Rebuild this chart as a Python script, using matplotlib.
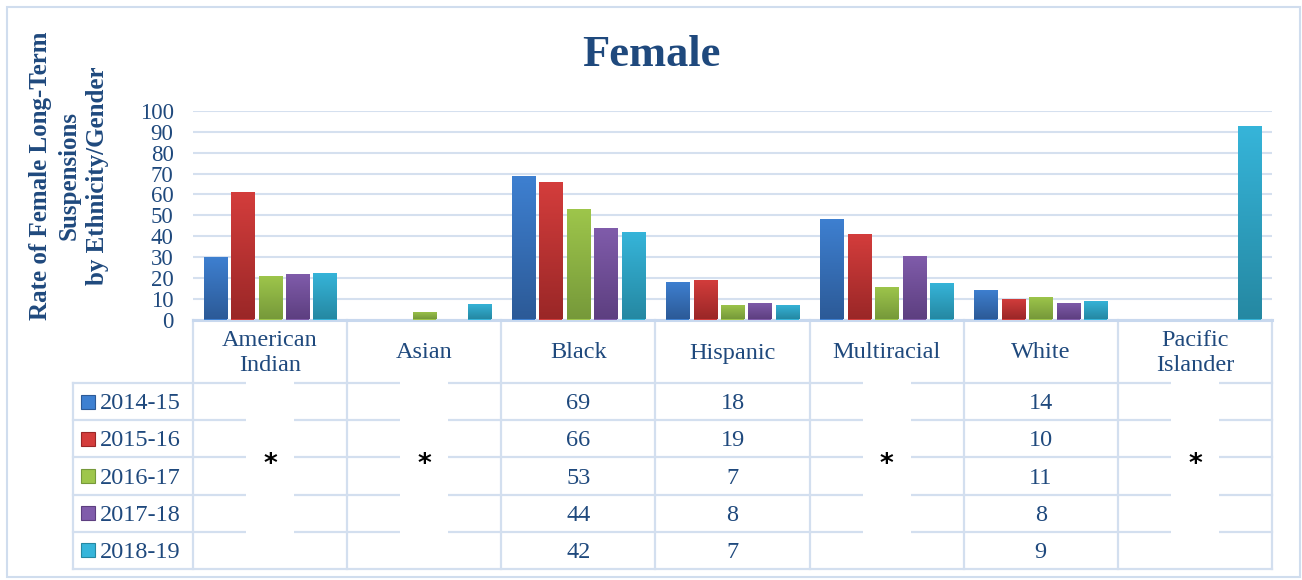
import numpy as np
import matplotlib
matplotlib.use("Agg")
import matplotlib.pyplot as plt
from matplotlib.colors import LinearSegmentedColormap
from matplotlib.patches import Rectangle
from matplotlib.transforms import blended_transform_factory

# ---------------- data ----------------
categories = ["American\nIndian", "Asian", "Black", "Hispanic",
              "Multiracial", "White", "Pacific\nIslander"]
years = ["2014-15", "2015-16", "2016-17", "2017-18", "2018-19"]
v_2014_15 = [30, 0, 69, 18, 48, 14, 0]
v_2015_16 = [61, 0, 66, 19, 41, 10, 0]
v_2016_17 = [21, 3.4, 53, 7, 15.5, 11, 0]
v_2017_18 = [22, 0, 44, 8, 30.5, 8, 0]
v_2018_19 = [22.3, 7.2, 42, 7, 17.5, 9, 92.7]
suppressed = [True, True, False, False, True, False, True]
y_ticks = [0, 10, 20, 30, 40, 50, 60, 70, 80, 90, 100]
title = "Female"
y_label = "Rate of Female Long-Term\nSuspensions\nby Ethnicity/Gender"

series = [v_2014_15, v_2015_16, v_2016_17, v_2017_18, v_2018_19]

# ---------------- style ----------------
grad_colors = [("#2C5A97", "#3E80D1"),   # (bottom, top)
               ("#9A2727", "#D43D3C"),
               ("#76993A", "#9EC64B"),
               ("#5D3F80", "#805CAB"),
               ("#2588A2", "#36B5DA")]
text_col = "#1F497D"
grid_col = "#D5E0EF"
table_col = "#D3DFEF"
SERIF = ["Liberation Serif", "DejaVu Serif"]

W, H = 1302, 580
def fx(p): return p / W
def fy(p): return 1 - p / H

fig = plt.figure(figsize=(W / 100, H / 100), dpi=100)
fig.patch.set_facecolor("white")

ax = fig.add_axes([fx(193), fy(319.5), fx(1272) - fx(193), fy(111) - fy(319.5)])
n = len(categories)
x = np.arange(n)
step = 0.178
bw = 0.15

grad = np.linspace(0, 1, 256).reshape(-1, 1)
for si, vals in enumerate(series):
    bot, top = grad_colors[si]
    cmap = LinearSegmentedColormap.from_list("g%d" % si, [bot, top])
    bars = ax.bar(x + (si - 2) * step, vals, bw, color=top, zorder=3, linewidth=0)
    for b in bars:
        h = b.get_height()
        if h <= 0:
            b.set_visible(False)
            continue
        x0 = b.get_x()
        im = ax.imshow(grad, cmap=cmap, origin="lower", aspect="auto",
                       extent=(x0, x0 + b.get_width(), 0, h), zorder=3.5)
        im.set_clip_path(b)

ax.set_xlim(-0.5, n - 0.5)
ax.set_ylim(0, 100)
ax.set_yticks(y_ticks)
ax.set_xticks([])
ax.yaxis.grid(True, color=grid_col, lw=1.5)
ax.set_axisbelow(True)
for s in ["left", "right", "top"]:
    ax.spines[s].set_visible(False)
ax.spines["bottom"].set_color("#C8D8EE")
ax.spines["bottom"].set_linewidth(2.2)
ax.tick_params(axis="y", length=0, pad=14, labelsize=16.5, labelcolor=text_col)
for lab in ax.get_yticklabels():
    lab.set_family(SERIF)

# ---------------- data table ----------------
blend = blended_transform_factory(ax.transData, fig.transFigure)
row_edges = [383, 420.2, 457.4, 494.6, 531.8, 569]
row_centers = [(row_edges[i] + row_edges[i + 1]) / 2 for i in range(5)]

for b in np.arange(-0.5, n, 1.0):
    ax.plot([b, b], [fy(320), fy(569)], transform=blend, color=table_col,
            lw=1.6, clip_on=False, zorder=2)
for ye in row_edges:
    ax.plot([fx(73), fx(1272)], [fy(ye), fy(ye)], transform=fig.transFigure,
            color=table_col, lw=1.6, clip_on=False, zorder=2)
ax.plot([fx(73), fx(73)], [fy(383), fy(569)], transform=fig.transFigure,
        color=table_col, lw=1.6, clip_on=False, zorder=2)

for i, cat in enumerate(categories):
    ax.text(i, fy(353), cat, transform=blend, ha="center", va="center",
            fontsize=17.5, color=text_col, family=SERIF, linespacing=1.2)
    if suppressed[i]:
        r = Rectangle((i - 0.155, fy(535)), 0.31, fy(381) - fy(535),
                      transform=blend, facecolor="white", edgecolor="none",
                      zorder=3, clip_on=False)
        ax.add_patch(r)
        ax.text(i, fy(465), "*", transform=blend, ha="center", va="center",
                fontsize=19, color="black", family=["DejaVu Sans"],
                weight="bold", zorder=4, clip_on=False)
    else:
        for r_i, vals in enumerate(series):
            ax.text(i, fy(row_centers[r_i] + 2), "%d" % round(vals[i]),
                    transform=blend, ha="center", va="center", fontsize=17.5,
                    color=text_col, family=SERIF)

for r_i, yr in enumerate(years):
    bot, top = grad_colors[r_i]
    yc = row_centers[r_i]
    fig.add_artist(Rectangle((fx(81), fy(yc + 7)), fx(14), 14 / H,
                             transform=fig.transFigure, facecolor=top,
                             edgecolor=bot, lw=0.8))
    fig.text(fx(100), fy(yc + 2), yr, ha="left", va="center", fontsize=17.5,
             color=text_col, family=SERIF)

# ---------------- titles / frame ----------------
fig.text(0.5, fy(55), title, ha="center", va="center", fontsize=32,
         weight="bold", color=text_col, family=SERIF)
fig.text(fx(69), fy(176), y_label, rotation=90, ha="center", va="center",
         fontsize=18, weight="bold", color=text_col, family=SERIF,
         multialignment="center", linespacing=1.3)
fig.add_artist(Rectangle((fx(7), fy(577)), fx(1293), 570 / H,
                         transform=fig.transFigure, fill=False,
                         edgecolor="#D0DDEE", lw=1.5))

fig.savefig("out.png", dpi=100, facecolor="white")
